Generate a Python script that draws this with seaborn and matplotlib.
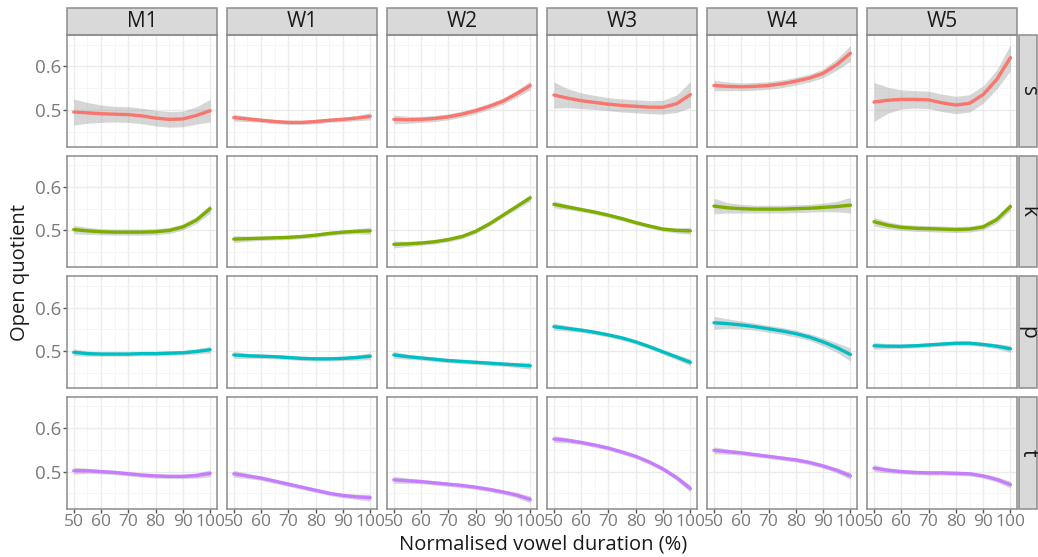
import numpy as np
import pandas as pd
import matplotlib.pyplot as plt
import seaborn as sns
from matplotlib.patches import Rectangle
from matplotlib.ticker import MultipleLocator

# =========================
# DATA
# =========================
speakers = ["M1", "W1", "W2", "W3", "W4", "W5"]
consonants = ["s", "k", "p", "t"]
duration = [50, 55, 60, 65, 70, 75, 80, 85, 90, 95, 100]

# smoothed open quotient per consonant, one list per speaker
oq_s = {
    "M1": [0.495, 0.493, 0.491, 0.490, 0.489, 0.486, 0.481, 0.478, 0.479, 0.487, 0.498],
    "W1": [0.482, 0.479, 0.476, 0.473, 0.471, 0.471, 0.473, 0.476, 0.478, 0.481, 0.485],
    "W2": [0.478, 0.477, 0.478, 0.480, 0.484, 0.490, 0.498, 0.508, 0.520, 0.537, 0.556],
    "W3": [0.534, 0.527, 0.521, 0.517, 0.513, 0.510, 0.508, 0.506, 0.506, 0.514, 0.535],
    "W4": [0.556, 0.554, 0.553, 0.554, 0.556, 0.560, 0.566, 0.573, 0.584, 0.604, 0.630],
    "W5": [0.518, 0.522, 0.524, 0.524, 0.523, 0.516, 0.511, 0.515, 0.535, 0.570, 0.620],
}
oq_k = {
    "M1": [0.502, 0.499, 0.497, 0.496, 0.496, 0.496, 0.497, 0.500, 0.508, 0.524, 0.550],
    "W1": [0.480, 0.481, 0.482, 0.483, 0.484, 0.486, 0.489, 0.493, 0.496, 0.498, 0.499],
    "W2": [0.468, 0.469, 0.471, 0.474, 0.479, 0.486, 0.498, 0.515, 0.535, 0.555, 0.575],
    "W3": [0.560, 0.554, 0.548, 0.542, 0.535, 0.527, 0.518, 0.510, 0.503, 0.500, 0.499],
    "W4": [0.556, 0.552, 0.550, 0.549, 0.549, 0.549, 0.550, 0.551, 0.553, 0.555, 0.558],
    "W5": [0.520, 0.512, 0.507, 0.505, 0.504, 0.503, 0.502, 0.503, 0.508, 0.525, 0.555],
}
oq_p = {
    "M1": [0.497, 0.494, 0.493, 0.493, 0.493, 0.494, 0.494, 0.495, 0.496, 0.499, 0.503],
    "W1": [0.491, 0.489, 0.488, 0.487, 0.485, 0.483, 0.482, 0.482, 0.483, 0.485, 0.488],
    "W2": [0.491, 0.487, 0.484, 0.481, 0.478, 0.476, 0.474, 0.472, 0.470, 0.468, 0.466],
    "W3": [0.556, 0.552, 0.548, 0.543, 0.537, 0.530, 0.521, 0.510, 0.498, 0.486, 0.474],
    "W4": [0.565, 0.563, 0.560, 0.556, 0.551, 0.546, 0.540, 0.532, 0.521, 0.508, 0.492],
    "W5": [0.512, 0.511, 0.511, 0.512, 0.514, 0.516, 0.518, 0.518, 0.515, 0.511, 0.505],
}
oq_t = {
    "M1": [0.502, 0.502, 0.500, 0.498, 0.495, 0.492, 0.490, 0.489, 0.489, 0.491, 0.496],
    "W1": [0.495, 0.490, 0.485, 0.478, 0.471, 0.464, 0.457, 0.450, 0.445, 0.442, 0.440],
    "W2": [0.481, 0.479, 0.477, 0.474, 0.471, 0.468, 0.464, 0.459, 0.453, 0.446, 0.436],
    "W3": [0.575, 0.572, 0.567, 0.561, 0.554, 0.545, 0.535, 0.522, 0.506, 0.486, 0.461],
    "W4": [0.549, 0.546, 0.543, 0.539, 0.535, 0.531, 0.527, 0.521, 0.513, 0.503, 0.490],
    "W5": [0.508, 0.503, 0.500, 0.498, 0.497, 0.497, 0.496, 0.495, 0.490, 0.482, 0.470],
}

# half width of the confidence band
se_narrow = [0.008, 0.006, 0.005, 0.005, 0.005, 0.005, 0.005, 0.005, 0.005, 0.006, 0.008]
se_wide = {
    ("s", "M1"): [0.030, 0.024, 0.020, 0.018, 0.018, 0.018, 0.018, 0.018, 0.018, 0.020, 0.026],
    ("s", "W2"): [0.010, 0.008, 0.007, 0.007, 0.007, 0.007, 0.007, 0.007, 0.007, 0.008, 0.010],
    ("s", "W3"): [0.030, 0.022, 0.018, 0.016, 0.015, 0.015, 0.015, 0.015, 0.016, 0.020, 0.030],
    ("s", "W4"): [0.012, 0.010, 0.009, 0.009, 0.009, 0.009, 0.009, 0.009, 0.010, 0.013, 0.018],
    ("s", "W5"): [0.045, 0.030, 0.022, 0.020, 0.020, 0.020, 0.020, 0.020, 0.020, 0.022, 0.030],
    ("k", "M1"): [0.010, 0.008, 0.007, 0.007, 0.007, 0.007, 0.007, 0.007, 0.007, 0.008, 0.010],
    ("k", "W4"): [0.018, 0.012, 0.010, 0.009, 0.009, 0.009, 0.009, 0.009, 0.010, 0.012, 0.018],
    ("k", "W5"): [0.010, 0.008, 0.007, 0.007, 0.007, 0.007, 0.007, 0.007, 0.007, 0.008, 0.010],
    ("p", "W4"): [0.015, 0.011, 0.009, 0.008, 0.008, 0.008, 0.008, 0.008, 0.009, 0.011, 0.015],
}

colours = {"s": "#F8766D", "k": "#7CAE00", "p": "#00BFC4", "t": "#C77CFF"}

# =========================
# LONG TABLE
# =========================
rows = []
for c, table in zip(consonants, [oq_s, oq_k, oq_p, oq_t]):
    for sp in speakers:
        se = se_wide.get((c, sp), se_narrow)
        for x, y, e in zip(duration, table[sp], se):
            rows.append({"consonant": c, "speaker": sp, "duration": x, "oq": y, "se": e})
df = pd.DataFrame(rows)

# =========================
# PLOT
# =========================
sns.set_style("white")
plt.rcParams["font.family"] = ["Open Sans", "DejaVu Sans"]

g = sns.FacetGrid(df, row="consonant", col="speaker", row_order=consonants,
                  col_order=speakers, sharex=True, sharey=True, despine=False,
                  height=1.2, aspect=1.3)


def draw(data, **kws):
    ax = plt.gca()
    col = colours[data["consonant"].iloc[0]]
    ax.fill_between(data["duration"], data["oq"] - data["se"], data["oq"] + data["se"],
                    color="#999999", alpha=0.4, lw=0, zorder=2)
    sns.lineplot(data=data, x="duration", y="oq", color=col, lw=2.4, ax=ax, zorder=3)


g.map_dataframe(draw)

fig = g.figure
fig.set_size_inches(10.38, 5.57)
fig.subplots_adjust(left=0.0645, right=0.98, top=0.937, bottom=0.087,
                    wspace=0.067, hspace=0.08)

g.set_titles("")
g.set_axis_labels("", "")

# shared axes: set ticks once
ax0 = g.axes[0, 0]
ax0.set_xlim(47.5, 102.5)
ax0.set_ylim(0.415, 0.672)
ax0.set_xticks([50, 60, 70, 80, 90, 100])
ax0.xaxis.set_minor_locator(MultipleLocator(5))
ax0.set_yticks([0.5, 0.6])
ax0.yaxis.set_minor_locator(MultipleLocator(0.05))

for i, c in enumerate(consonants):
    for j, sp in enumerate(speakers):
        ax = g.axes[i, j]
        ax.set_facecolor("white")
        ax.grid(which="major", color="#EBEBEB", lw=1.0, zorder=0)
        ax.grid(which="minor", color="#F4F4F4", lw=0.6, zorder=0)
        ax.set_axisbelow(True)
        for s in ax.spines.values():
            s.set_color("#8C8C8C")
            s.set_linewidth(1.1)
        ax.tick_params(which="major", length=3, width=1, color="#555555",
                       labelsize=13.5, labelcolor="#7A7A7A", pad=1,
                       left=(j == 0), bottom=(i == len(consonants) - 1))
        ax.tick_params(axis="x", labelsize=12.5)
        ax.tick_params(which="minor", length=0)
        ax.tick_params(axis="x", labelbottom=(i == len(consonants) - 1))
        ax.tick_params(axis="y", labelleft=(j == 0))

        # column strips
        if i == 0:
            ax.add_patch(Rectangle((0, 1.0), 1, 0.245, transform=ax.transAxes,
                                   facecolor="#D9D9D9", edgecolor="#8C8C8C",
                                   lw=1.1, clip_on=False))
            ax.text(0.5, 1.122, sp, transform=ax.transAxes, ha="center",
                    va="center", fontsize=15, color="#1A1A1A")
        # row strips
        if j == len(speakers) - 1:
            ax.add_patch(Rectangle((1.013, 0), 0.12, 1, transform=ax.transAxes,
                                   facecolor="#D9D9D9", edgecolor="#8C8C8C",
                                   lw=1.1, clip_on=False))
            ax.text(1.073, 0.5, c, transform=ax.transAxes, ha="center",
                    va="center", rotation=-90, fontsize=15, color="#1A1A1A")

fig.text(0.523, 0.022, "Normalised vowel duration (%)", ha="center", va="center",
         fontsize=14.5, color="#1A1A1A")
fig.text(0.019, 0.51, "Open quotient", ha="center", va="center", rotation=90,
         fontsize=14.5, color="#1A1A1A")

fig.savefig("out.png", dpi=100)
